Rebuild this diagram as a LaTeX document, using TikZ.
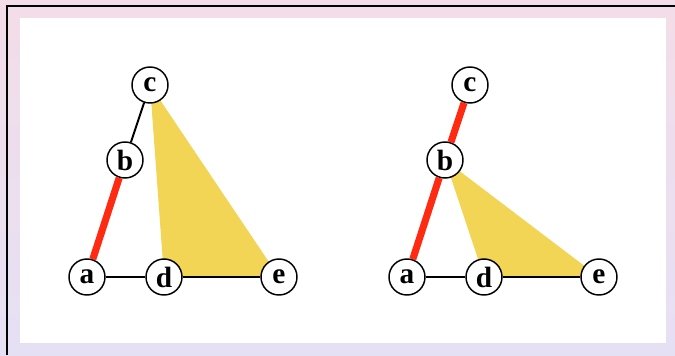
\documentclass[tikz,border=0pt]{standalone}
\usepackage{fontspec}
\setmainfont{Liberation Serif}
\usetikzlibrary{backgrounds}
\definecolor{grpink}{HTML}{F3DDE8}
\definecolor{grlilac}{HTML}{E6E0F5}
\definecolor{grred}{HTML}{FF2A12}
\definecolor{grface}{HTML}{F2D555}
\tikzset{
  gr vertex/.style={circle, draw=black, line width=1.1pt, fill=white,
    minimum size=27pt, inner sep=0pt, font=\fontsize{22}{22}\selectfont\bfseries},
  gr edge/.style={draw=black, line width=1.5pt},
  gr path/.style={draw=grred, line width=5.3pt},
  gr face/.style={fill=grface},
  gr frame/.style={draw=black, line width=1.5pt}
}
\begin{document}
\begin{tikzpicture}[x=0.75pt, y=-0.75pt]
  \useasboundingbox (0,0) rectangle (675,355);
  % the two graphs, same vertices
  \foreach \p/\dx in {L/0,R/320} {
    \node[gr vertex] (\p a) at (87+\dx,277) {a};
    \node[gr vertex] (\p b) at (125+\dx,160) {b};
    \node[gr vertex] (\p c) at (150+\dx,85) {c};
    \node[gr vertex] (\p d) at (164+\dx,277) {d};
    \node[gr vertex] (\p e) at (279+\dx,277) {e};
    \draw[gr edge] (\p a) -- (\p d);
    \draw[gr edge] (\p d) -- (\p e);
    \draw[gr path] (\p a) -- (\p b);
  }
  \draw[gr edge] (Lb) -- (Lc);
  \draw[gr path] (Rb) -- (Rc);
  \begin{pgfonlayer}{background}
    \shade[top color=grpink, bottom color=grlilac] (0,0) rectangle (675,355);
    \draw[gr frame] (6.5,355) -- (6.5,5.5) -- (675,5.5);
    \fill[white] (20,18) rectangle (666,343);
    % shaded faces
    \fill[gr face] (Lc.center) -- (Ld.center) -- (Le.center) -- cycle;
    \fill[gr face] (Rb.center) -- (Rd.center) -- (Re.center) -- cycle;
  \end{pgfonlayer}
\end{tikzpicture}
\end{document}
